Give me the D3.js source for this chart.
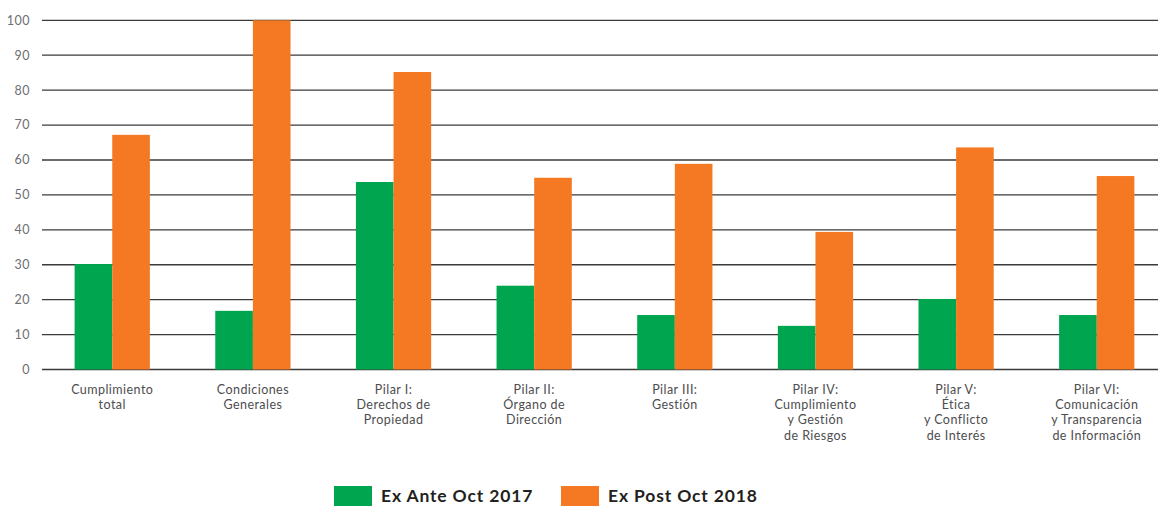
<!DOCTYPE html>
<html><head><meta charset="utf-8">
<script src="https://cdn.jsdelivr.net/npm/d3@7/dist/d3.min.js"></script>
<style>body{margin:0;background:#fff}svg{display:block}</style>
</head><body><svg id="c" width="1158" height="506"></svg>
<script>
const categories = [
  ["Cumplimiento","total"],
  ["Condiciones","Generales"],
  ["Pilar I:","Derechos de","Propiedad"],
  ["Pilar II:","Órgano de","Dirección"],
  ["Pilar III:","Gestión"],
  ["Pilar IV:","Cumplimiento","y Gestión","de Riesgos"],
  ["Pilar V:","Ética","y Conflicto","de Interés"],
  ["Pilar VI:","Comunicación","y Transparencia","de Información"]
];
const seriesNames = ["Ex Ante Oct 2017","Ex Post Oct 2018"];
const exAnte = [30.2, 16.8, 53.7, 24.0, 15.6, 12.5, 20.2, 15.6];
const exPost = [67.2, 100, 85.2, 54.9, 58.9, 39.4, 63.6, 55.4];
const yTicks = [0,10,20,30,40,50,60,70,80,90,100];
const colors = ["#00a54f","#f47922"];

const svg = d3.select("#c");
const x = d3.scaleBand().domain(d3.range(categories.length)).range([42, 1167]).paddingInner(0.465).paddingOuter(0.232);
const xs = d3.scaleBand().domain([0,1]).range([0, x.bandwidth()]);
const y = d3.scaleLinear().domain([0,100]).range([369.5, 20.3]);

// gridlines
svg.append("g").selectAll("line").data(yTicks).join("line")
  .attr("x1", 42).attr("x2", 1158)
  .attr("y1", d => y(d)).attr("y2", d => y(d))
  .attr("stroke", "#3a3a3a").attr("stroke-width", 1.3);

// y labels
svg.append("g").selectAll("text").data(yTicks).join("text")
  .attr("x", 30).attr("y", d => y(d)).attr("dy", "0.35em")
  .attr("text-anchor", "end")
  .attr("font-family", "Lato, 'Noto Sans', sans-serif").attr("font-size", 12.5)
  .attr("letter-spacing", 0.5)
  .attr("fill", "#6d6e71").text(d => d);

// bars
const data = categories.map((c,i) => [exAnte[i], exPost[i]]);
const g = svg.append("g").selectAll("g").data(data).join("g")
  .attr("transform", (d,i) => `translate(${x(i)},0)`);
g.selectAll("rect").data(d => d).join("rect")
  .attr("x", (d,j) => xs(j)).attr("width", xs.bandwidth())
  .attr("y", d => y(d)).attr("height", d => y(0) - y(d))
  .attr("fill", (d,j) => colors[j]);

// x labels
const xl = svg.append("g").selectAll("text").data(categories).join("text")
  .attr("x", (d,i) => x(i) + x.bandwidth()/2)
  .attr("y", 394)
  .attr("text-anchor", "middle")
  .attr("font-family", "Lato, 'Noto Sans', sans-serif").attr("font-size", 12.5)
  .attr("letter-spacing", 0.45)
  .attr("fill", "#4d4d4f");
xl.selectAll("tspan").data(d => d).join("tspan")
  .attr("x", function(){ return this.parentNode.getAttribute("x"); })
  .attr("dy", (d,k) => k === 0 ? 0 : 15.2)
  .text(d => d);

// legend
const legX = [334, 561];
const lg = svg.append("g").selectAll("g").data(seriesNames).join("g")
  .attr("transform", (d,i) => `translate(${legX[i]},486)`);
lg.append("rect").attr("width", 38).attr("height", 20).attr("fill", (d,i) => colors[i]);
lg.append("text").attr("x", 47).attr("y", 10).attr("dy", "0.36em")
  .attr("font-family", "Lato, 'Noto Sans', sans-serif").attr("font-weight", 700)
  .attr("font-size", 17.5).attr("letter-spacing", 0.85)
  .attr("fill", "#231f20").text(d => d);
</script></body></html>
